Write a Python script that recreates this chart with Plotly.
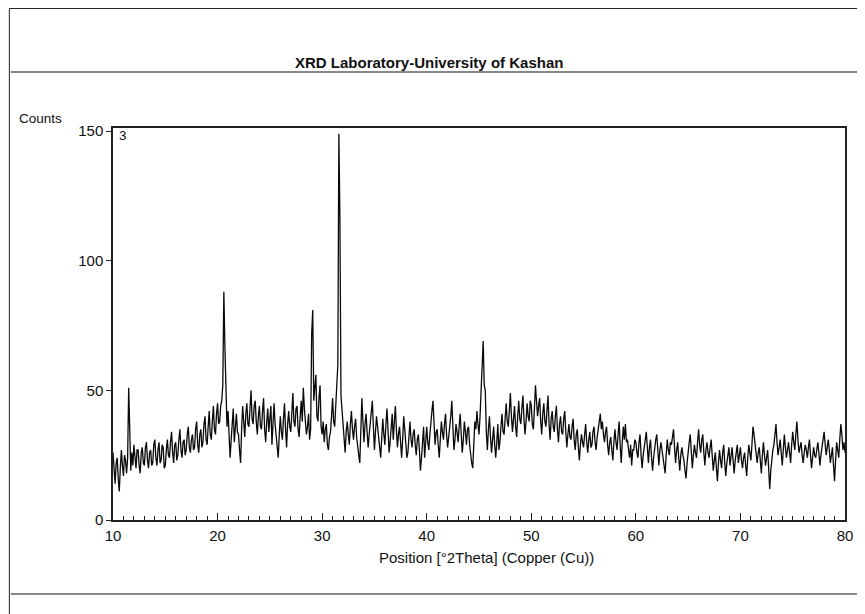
import plotly.graph_objects as go

# Scan: 10.0 -> 80.0 °2Theta, 0.1° step
scan_start = 10.0
scan_step = 0.1

counts_10_20 = [26, 18, 14, 22, 24, 16, 11, 20, 27, 21,
                17, 25, 23, 18, 24, 51, 30, 19, 26, 21,
                29, 22, 20, 27, 27, 21, 18, 26, 28, 22,
                21, 28, 30, 23, 20, 26, 27, 21, 22, 29,
                31, 24, 21, 27, 30, 22, 23, 29, 28, 20,
                21, 27, 31, 25, 24, 30, 34, 26, 22, 29,
                30, 23, 25, 31, 35, 27, 24, 30, 31, 25,
                27, 33, 36, 28, 26, 31, 33, 27, 28, 35,
                38, 29, 26, 33, 35, 28, 30, 37, 40, 31,
                29, 36, 42, 33, 31, 38, 44, 35, 33, 41]
counts_20_30 = [45, 37, 38, 44, 46, 52, 88, 67, 44, 36,
                42, 33, 24, 31, 38, 43, 30, 36, 41, 34,
                33, 27, 22, 35, 44, 38, 32, 41, 45, 37,
                36, 43, 50, 39, 37, 44, 46, 38, 33, 40,
                44, 36, 35, 42, 47, 35, 30, 38, 43, 34,
                38, 44, 29, 36, 45, 37, 33, 28, 24, 33,
                40, 34, 31, 39, 45, 35, 28, 37, 42, 36,
                34, 41, 49, 38, 36, 43, 44, 35, 32, 40,
                46, 38, 51, 43, 38, 33, 36, 41, 31, 35,
                72, 81, 46, 50, 56, 40, 38, 47, 52, 36]
counts_30_40 = [33, 38, 30, 35, 37, 29, 27, 32, 34, 40,
                47, 38, 36, 44, 53, 60, 149, 116, 48, 42,
                40, 31, 26, 34, 38, 33, 29, 37, 42, 35,
                31, 36, 39, 32, 27, 25, 22, 35, 47, 38,
                30, 37, 41, 34, 28, 33, 38, 44, 46, 36,
                27, 34, 40, 36, 31, 27, 24, 32, 39, 33,
                29, 37, 43, 35, 26, 30, 37, 41, 31, 38,
                44, 35, 28, 33, 36, 30, 24, 31, 40, 35,
                30, 24, 26, 33, 38, 31, 28, 33, 35, 29,
                25, 31, 33, 27, 19, 24, 30, 36, 24, 33]
counts_40_50 = [36, 30, 27, 33, 39, 42, 46, 35, 29, 34,
                35, 29, 24, 31, 38, 34, 31, 37, 41, 33,
                28, 32, 35, 40, 46, 33, 27, 31, 37, 34,
                30, 36, 41, 33, 26, 31, 38, 34, 29, 35,
                36, 29, 25, 22, 20, 30, 38, 35, 42, 37,
                33, 40, 49, 57, 69, 52, 50, 34, 27, 35,
                40, 32, 26, 31, 36, 29, 24, 30, 37, 27,
                30, 36, 41, 34, 33, 39, 45, 38, 36, 42,
                49, 40, 34, 39, 44, 36, 32, 40, 46, 39,
                37, 43, 48, 39, 33, 38, 45, 40, 38, 46]
counts_50_60 = [44, 37, 35, 43, 52, 46, 40, 44, 47, 38,
                33, 41, 45, 38, 36, 42, 48, 37, 31, 39,
                42, 36, 34, 40, 44, 35, 30, 37, 40, 34,
                33, 39, 42, 34, 28, 33, 37, 32, 31, 36,
                39, 31, 27, 33, 35, 28, 23, 29, 33, 30,
                28, 33, 37, 30, 26, 31, 34, 28, 29, 34,
                36, 30, 27, 32, 35, 39, 41, 35, 38, 33,
                30, 34, 36, 29, 25, 30, 32, 27, 23, 30,
                35, 30, 27, 33, 38, 29, 22, 30, 36, 31,
                37, 30, 31, 27, 24, 29, 21, 27, 27, 31]
counts_60_70 = [30, 26, 24, 30, 33, 25, 20, 25, 29, 31,
                34, 27, 22, 28, 31, 24, 19, 24, 28, 31,
                33, 26, 21, 27, 30, 27, 24, 20, 18, 25,
                31, 27, 25, 30, 29, 32, 35, 28, 22, 27,
                30, 24, 19, 25, 28, 25, 23, 19, 16, 22,
                27, 30, 33, 26, 20, 25, 29, 26, 24, 30,
                35, 29, 26, 31, 33, 26, 21, 27, 30, 26,
                24, 28, 31, 25, 19, 23, 26, 20, 15, 22,
                27, 23, 20, 26, 29, 22, 17, 22, 25, 28,
                21, 25, 28, 23, 18, 23, 26, 29, 22, 25]
counts_70_80 = [28, 23, 20, 24, 26, 21, 17, 24, 29, 26,
                23, 29, 36, 33, 30, 25, 22, 26, 28, 23,
                18, 25, 30, 25, 21, 24, 27, 20, 12, 19,
                24, 27, 29, 33, 37, 30, 25, 28, 31, 26,
                21, 27, 33, 28, 24, 27, 30, 26, 22, 29,
                34, 30, 27, 33, 38, 31, 26, 28, 30, 25,
                22, 26, 29, 27, 24, 28, 31, 25, 20, 24,
                28, 25, 24, 27, 30, 26, 21, 25, 29, 31,
                34, 29, 25, 28, 31, 27, 22, 25, 28, 21,
                15, 23, 30, 27, 24, 31, 37, 33, 27, 30,
                26]

counts = (counts_10_20 + counts_20_30 + counts_30_40 + counts_40_50
          + counts_50_60 + counts_60_70 + counts_70_80)
two_theta = [round(scan_start + scan_step * i, 2) for i in range(len(counts))]

x_ticks = [10, 20, 30, 40, 50, 60, 70, 80]
y_ticks = [0, 50, 100, 150]

title_text = "XRD Laboratory-University of Kashan"
x_title = "Position [°2Theta] (Copper (Cu))"
y_title = "Counts"
scan_label = "3"

# page has an 8px body margin: figure origin sits at page (8, 8)
OFF = 8
W, H = 865 - OFF, 614 - OFF
L, R, T, B = 113 - OFF, 865 - 851, 128 - OFF, 614 - 520
pw, ph = W - L - R, H - T - B

def px(xp):  # page x -> paper
    return (xp - OFF - L) / pw

def py(yp):  # page y -> paper
    return (H - B - (yp - OFF)) / ph

font = "Liberation Sans, Arial, sans-serif"

fig = go.Figure()
fig.add_trace(go.Scatter(x=two_theta, y=counts, mode="lines",
                         line=dict(color="#0a0a0a", width=1.3),
                         hoverinfo="skip", showlegend=False))

fig.update_layout(
    width=W, height=H,
    margin=dict(l=L, r=R, t=T, b=B),
    paper_bgcolor="white", plot_bgcolor="white",
    font=dict(family=font, size=15, color="#111111"),
    showlegend=False,
)
fig.update_xaxes(
    range=[10, 80], tickvals=x_ticks, ticktext=[str(v) for v in x_ticks],
    showgrid=False, zeroline=False,
    showline=True, mirror=True, linecolor="#222222", linewidth=1.5,
    ticks="inside", ticklen=7, tickcolor="#222222", tickwidth=1.2,
    minor=dict(dtick=1, ticks="inside", ticklen=4, tickcolor="#222222", tickwidth=1),
    tickfont=dict(size=15, family=font), ticklabelstandoff=1,
)
fig.update_yaxes(
    range=[0, 151.2], tickvals=y_ticks, ticktext=[str(v) for v in y_ticks],
    showgrid=False, zeroline=False,
    showline=True, mirror=True, linecolor="#222222", linewidth=1.5,
    ticks="outside", ticklen=5, tickcolor="#222222", tickwidth=1,
    tickfont=dict(size=15, family=font),
)

shapes = [
    # outer frame (top and left)
    dict(type="line", xref="paper", yref="paper", x0=px(8.5), x1=px(865), y0=py(8.5), y1=py(8.5),
         line=dict(color="#222222", width=1)),
    dict(type="line", xref="paper", yref="paper", x0=px(8.5), x1=px(8.5), y0=py(8.5), y1=py(614),
         line=dict(color="#222222", width=1)),
    # rule under the title
    dict(type="line", xref="paper", yref="paper", x0=px(10), x1=px(865), y0=py(72), y1=py(72),
         line=dict(color="#888888", width=2)),
    # rule under the axis title
    dict(type="line", xref="paper", yref="paper", x0=px(10), x1=px(865), y0=py(594), y1=py(594),
         line=dict(color="#888888", width=2)),
]
fig.update_layout(shapes=shapes)

fig.add_annotation(text="<b>" + title_text + "</b>", xref="paper", yref="paper",
                   x=px(432), y=py(63), showarrow=False, xanchor="center", yanchor="middle",
                   font=dict(size=15, family=font, color="#111111"))
fig.add_annotation(text=y_title, xref="paper", yref="paper",
                   x=px(16), y=py(118), showarrow=False, xanchor="left", yanchor="middle",
                   font=dict(size=13.5, family=font, color="#111111"))
fig.add_annotation(text=x_title, xref="paper", yref="paper",
                   x=px(490), y=py(557), showarrow=False, xanchor="center", yanchor="middle",
                   font=dict(size=15, family=font, color="#111111"))
fig.add_annotation(text=scan_label, xref="paper", yref="paper",
                   x=px(117), y=py(135), showarrow=False, xanchor="left", yanchor="middle",
                   font=dict(size=13.5, family=font, color="#111111"))

fig.write_html("out.html")
